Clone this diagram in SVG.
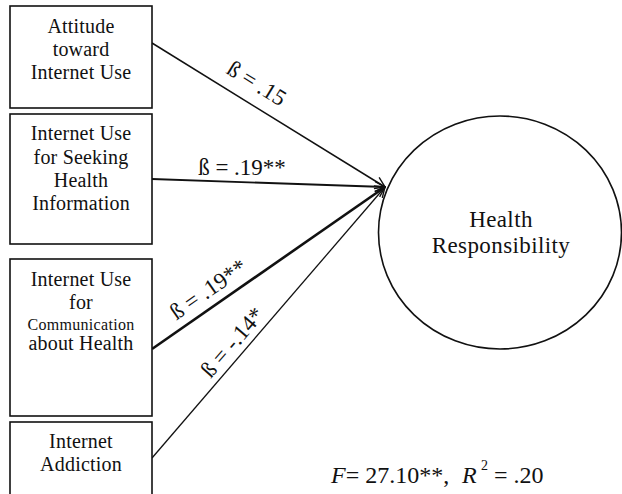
<svg xmlns="http://www.w3.org/2000/svg" width="622" height="494" viewBox="0 0 622 494">
<style>
text{font-family:"Liberation Serif","Times New Roman",serif;fill:#111;}
.box{fill:#fff;stroke:#111;stroke-width:1.6;}
.bt{font-size:20px;text-anchor:middle;letter-spacing:0.2px;}
.small{font-size:16px;letter-spacing:0.3px;}
.conn{stroke:#111;fill:none;}
.lab{font-size:23px;text-anchor:middle;}
</style>
<defs>
<marker id="arr" viewBox="0 0 12 12" refX="11" refY="6" markerWidth="12" markerHeight="12" markerUnits="userSpaceOnUse" orient="auto">
<path d="M1,1 L11,6 L1,11" fill="none" stroke="#111" stroke-width="1.4"/>
</marker>
</defs>
<rect width="622" height="494" fill="#fff"/>
<g id="connectors">
<line class="conn" x1="152" y1="43" x2="385" y2="187" stroke-width="1.5" marker-end="url(#arr)"/>
<line class="conn" x1="152" y1="179" x2="385" y2="187" stroke-width="1.8" marker-end="url(#arr)"/>
<line class="conn" x1="152" y1="349" x2="385" y2="187" stroke-width="2.6" marker-end="url(#arr)"/>
<line class="conn" x1="152" y1="458" x2="385" y2="187" stroke-width="1.3" marker-end="url(#arr)"/>
<text class="lab" transform="translate(257,83) rotate(31.7)" y="8">ß = .15</text>
<text class="lab" x="242" y="175">ß = .19**</text>
<text class="lab" transform="translate(208,289) rotate(-34.8)" y="8">ß = .19**</text>
<text class="lab" transform="translate(232,342) rotate(-49.3)" y="8">ß = -.14*</text>
</g>
<g id="n1">
<rect class="box" x="10" y="6" width="142" height="102"/>
<text class="bt" x="81" y="33">Attitude</text>
<text class="bt" x="81" y="56">toward</text>
<text class="bt" x="81" y="79">Internet Use</text>
</g>
<g id="n2">
<rect class="box" x="10" y="114" width="142" height="130"/>
<text class="bt" x="81" y="140">Internet Use</text>
<text class="bt" x="81" y="164">for Seeking</text>
<text class="bt" x="81" y="187">Health</text>
<text class="bt" x="81" y="210">Information</text>
</g>
<g id="n3">
<rect class="box" x="10" y="259" width="142" height="157"/>
<text class="bt" x="81" y="286">Internet Use</text>
<text class="bt" x="81" y="309">for</text>
<text class="bt small" x="81" y="330">Communication</text>
<text class="bt" x="81" y="350">about Health</text>
</g>
<g id="n4">
<rect class="box" x="10" y="422" width="142" height="80"/>
<text class="bt" x="81" y="448">Internet</text>
<text class="bt" x="81" y="471">Addiction</text>
</g>
<g id="n5">
<ellipse cx="500" cy="232.5" rx="121.5" ry="116.5" fill="#fff" stroke="#111" stroke-width="1.6"/>
<text x="501" y="227" font-size="23" text-anchor="middle" letter-spacing="0.4">Health</text>
<text x="501" y="253" font-size="23" text-anchor="middle" letter-spacing="0.4">Responsibility</text>
</g>
<g id="stats">
<text y="483" font-size="24"><tspan x="331" font-style="italic">F</tspan><tspan>= 27.10**,</tspan><tspan x="462" font-style="italic">R</tspan><tspan x="481" dy="-13" font-size="14">2</tspan><tspan x="494" dy="13">= .20</tspan></text>
</g>
</svg>
